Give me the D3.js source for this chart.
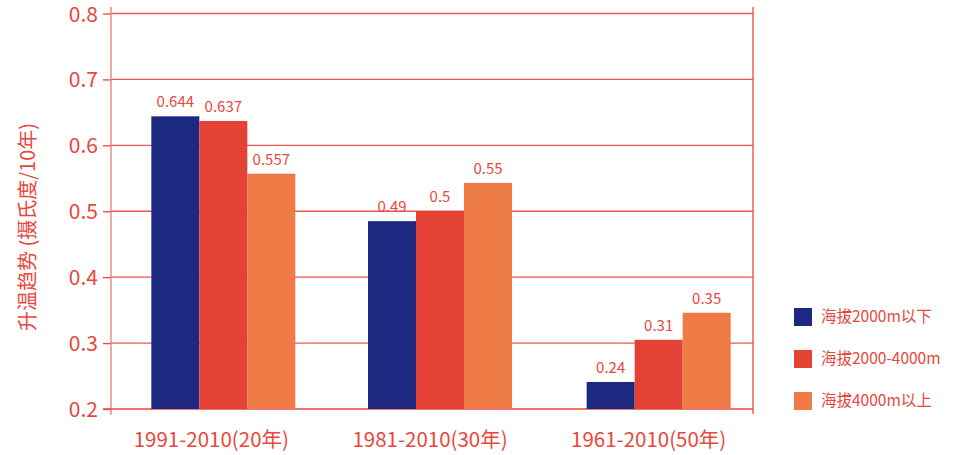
<!DOCTYPE html>
<html>
<head>
<meta charset="utf-8">
<script src="https://cdn.jsdelivr.net/npm/d3@7"></script>
<style>
  body { margin: 0; background: #fff; }
  text { font-family: "Noto Sans CJK SC", "Noto Sans", sans-serif; }
</style>
</head>
<body>
<script>
// data
var categories = ["1991-2010(20年)", "1981-2010(30年)", "1961-2010(50年)"];
var seriesNames = ["海拔2000m以下", "海拔2000-4000m", "海拔4000m以上"];
var below2000 = [0.644, 0.485, 0.241];
var mid2000to4000 = [0.637, 0.5, 0.305];
var above4000 = [0.557, 0.543, 0.346];
var below2000Labels = ["0.644", "0.49", "0.24"];
var midLabels = ["0.637", "0.5", "0.31"];
var above4000Labels = ["0.557", "0.55", "0.35"];
var yTicks = [0.2, 0.3, 0.4, 0.5, 0.6, 0.7, 0.8];

var colors = ["#1d2880", "#e34234", "#ee7b45"];
var red = "#e8473d";

var seriesValues = [below2000, mid2000to4000, above4000];
var seriesLabels = [below2000Labels, midLabels, above4000Labels];

var svg = d3.select("body").append("svg")
    .attr("width", 959)
    .attr("height", 455);

var x = d3.scaleBand().domain(categories).range([102, 758]);
var xInner = d3.scaleBand().domain(seriesNames).range([0, 144]);
var y = d3.scaleLinear().domain([0.2, 0.8]).range([409, 13.5]);

// gridlines
svg.append("g").selectAll("line")
    .data(yTicks.slice(1))
    .enter().append("line")
    .attr("x1", 111).attr("x2", 753)
    .attr("y1", function(d) { return y(d); })
    .attr("y2", function(d) { return y(d); })
    .attr("stroke", "#e8584c")
    .attr("stroke-width", 1.3);

// y axis
var yAxis = svg.append("g")
    .attr("transform", "translate(111,0)")
    .call(d3.axisLeft(y).tickValues(yTicks).tickSize(8).tickFormat(d3.format(".1f")));
yAxis.select(".domain").remove();
yAxis.selectAll("line").attr("stroke", red).attr("stroke-width", 1.3);
yAxis.selectAll("text")
    .attr("fill", red)
    .attr("font-size", 21)
    .attr("x", -13)
    .attr("dy", "0.36em");

// frame lines
svg.append("line").attr("x1", 111).attr("x2", 111).attr("y1", 7).attr("y2", 415)
    .attr("stroke", "#ec7a70").attr("stroke-width", 1.3);
svg.append("line").attr("x1", 753).attr("x2", 753).attr("y1", 7).attr("y2", 414)
    .attr("stroke", red).attr("stroke-width", 1.3);
svg.append("line").attr("x1", 103).attr("x2", 753).attr("y1", 409).attr("y2", 409)
    .attr("stroke", red).attr("stroke-width", 1.3);

function barX(d, i) {
  // group 1 sits slightly further right in the reference
  var shift = d.cat === categories[0] ? 12 : 10;
  return x(d.cat) + x.bandwidth() / 2 - 72 + shift + xInner(d.s);
}

// bars
var groups = svg.append("g").selectAll("g")
    .data(seriesNames)
    .enter().append("g")
    .attr("fill", function(d, i) { return colors[i]; });

var rows = function(d, i) {
  return categories.map(function(c, j) {
    return { cat: c, s: d, v: seriesValues[i][j], label: seriesLabels[i][j] };
  });
};

groups.selectAll("rect")
    .data(rows)
    .enter().append("rect")
    .attr("x", barX)
    .attr("width", xInner.bandwidth())
    .attr("y", function(d) { return y(d.v); })
    .attr("height", function(d) { return y(0.2) - y(d.v); });

groups.selectAll("text")
    .data(rows)
    .enter().append("text")
    .attr("x", function(d) { return barX(d) + xInner.bandwidth() / 2; })
    .attr("y", function(d) { return y(d.v) - 9; })
    .attr("text-anchor", "middle")
    .attr("fill", red)
    .attr("font-size", 15)
    .text(function(d) { return d.label; });

// category labels
svg.append("g").selectAll("text")
    .data(categories)
    .enter().append("text")
    .attr("x", function(d) { return x(d) + x.bandwidth() / 2; })
    .attr("y", 447)
    .attr("text-anchor", "middle")
    .attr("fill", red)
    .attr("font-size", 20.5)
    .text(function(d) { return d; });

// y title
svg.append("text")
    .attr("transform", "translate(35,227) rotate(-90)")
    .attr("text-anchor", "middle")
    .attr("fill", red)
    .attr("font-size", 20)
    .text("升温趋势 (摄氏度/10年)");

// legend
var legend = svg.append("g").selectAll("g")
    .data(seriesNames)
    .enter().append("g")
    .attr("transform", function(d, i) { return "translate(794," + (308 + i * 42) + ")"; });
legend.append("rect")
    .attr("width", 18).attr("height", 18)
    .attr("fill", function(d, i) { return colors[i]; });
legend.append("text")
    .attr("x", 27).attr("y", 9)
    .attr("dy", "0.35em")
    .attr("fill", red)
    .attr("font-size", 15.5)
    .text(function(d) { return d; });
</script>
</body>
</html>
